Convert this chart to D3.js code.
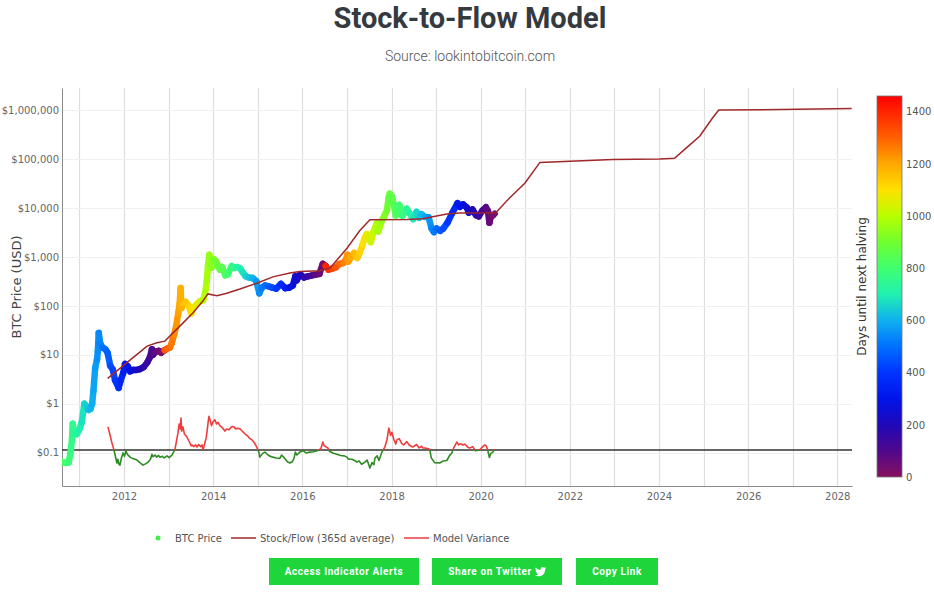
<!DOCTYPE html>
<html><head><meta charset="utf-8">
<script src="https://cdn.jsdelivr.net/npm/d3@7"></script>
<style>body{margin:0;background:#fff;}svg{display:block;}</style>
</head><body>
<svg id="chart" width="934" height="593"></svg>
<script>
// ---------------- DATA ----------------
const priceDates = ["2010-08-15","2010-09-01","2010-09-20","2010-10-05","2010-10-20","2010-11-01","2010-11-07","2010-11-20","2010-12-10","2011-01-01","2011-01-20","2011-02-10","2011-02-25","2011-03-15","2011-04-01","2011-04-15","2011-04-25","2011-05-10","2011-05-25","2011-06-01","2011-06-08","2011-06-20","2011-07-10","2011-08-01","2011-08-20","2011-09-10","2011-10-01","2011-10-20","2011-11-18","2011-12-05","2011-12-25","2012-01-10","2012-02-01","2012-02-20","2012-03-15","2012-04-10","2012-05-10","2012-06-10","2012-07-10","2012-08-01","2012-08-17","2012-08-25","2012-09-15","2012-10-10","2012-11-01","2012-11-27","2012-11-29","2012-12-20","2013-01-10","2013-01-25","2013-02-15","2013-03-05","2013-03-20","2013-04-01","2013-04-09","2013-04-16","2013-05-01","2013-05-20","2013-06-15","2013-07-05","2013-07-20","2013-08-15","2013-09-15","2013-10-10","2013-10-25","2013-11-10","2013-11-20","2013-11-30","2013-12-10","2013-12-18","2014-01-05","2014-01-25","2014-02-10","2014-02-25","2014-03-15","2014-04-10","2014-05-01","2014-06-01","2014-06-20","2014-07-15","2014-08-10","2014-09-01","2014-09-25","2014-10-20","2014-11-20","2014-12-20","2015-01-14","2015-02-01","2015-03-01","2015-04-01","2015-05-01","2015-06-01","2015-07-10","2015-08-15","2015-09-15","2015-10-15","2015-11-05","2015-11-15","2015-12-15","2016-01-15","2016-02-15","2016-03-15","2016-04-15","2016-05-20","2016-06-17","2016-07-08","2016-07-10","2016-08-02","2016-09-01","2016-10-01","2016-11-01","2016-12-01","2016-12-25","2017-01-04","2017-01-12","2017-02-01","2017-03-01","2017-03-25","2017-04-15","2017-05-10","2017-05-25","2017-06-12","2017-07-15","2017-08-05","2017-09-01","2017-09-15","2017-10-12","2017-11-01","2017-11-25","2017-12-08","2017-12-17","2017-12-25","2018-01-05","2018-01-20","2018-02-05","2018-02-20","2018-03-05","2018-04-01","2018-05-05","2018-06-01","2018-06-28","2018-07-25","2018-08-15","2018-09-05","2018-10-01","2018-11-01","2018-11-25","2018-12-15","2019-01-05","2019-02-05","2019-03-01","2019-04-05","2019-05-15","2019-06-26","2019-07-15","2019-08-10","2019-09-10","2019-09-26","2019-10-26","2019-11-25","2019-12-17","2020-01-15","2020-02-13","2020-03-01","2020-03-13","2020-03-25","2020-04-10","2020-04-25"];
const priceValues = [0.065,0.062,0.062,0.063,0.10,0.19,0.39,0.25,0.24,0.30,0.42,1.0,0.9,0.75,0.78,1.0,1.8,5.4,8,12,28,17,14,13,11,6,5,3,2.1,3,4.2,6.5,5.8,4.6,4.9,4.9,5.1,5.6,7,9,13,10,11.5,12,11,12.3,12.4,13.4,14,17,26,40,70,110,230,90,110,120,100,70,90,105,125,130,175,320,700,1100,900,600,900,800,650,550,620,420,440,650,600,620,580,480,400,380,370,320,180,230,260,250,235,225,280,230,235,260,400,330,440,380,400,415,430,450,720,650,650,550,575,610,720,750,900,1100,800,970,1200,950,1200,1800,2400,2900,2000,3200,4800,3300,5400,6700,9000,16000,19500,13800,17000,11500,7000,11000,11500,6900,9700,7500,5900,8300,6300,7400,6600,6400,3800,3200,3800,3400,3800,5000,8000,12500,10500,11800,10200,8000,9300,7100,6700,8800,10300,8600,5000,6700,7000,7600];

const sfDates = ["2011-08-20","2011-11-04","2012-01-25","2012-04-22","2012-07-08","2012-09-27","2012-12-01","2013-01-30","2013-04-05","2013-07-20","2013-10-08","2013-11-18","2014-02-01","2014-04-22","2014-08-08","2014-12-24","2015-05-05","2015-09-21","2015-12-12","2016-05-22","2016-08-15","2017-01-01","2017-04-15","2017-07-08","2018-05-06","2018-09-14","2018-12-05","2019-03-30","2019-07-12","2020-05-04","2020-08-25","2020-12-28","2021-05-01","2022-12-16","2024-01-08","2024-05-08","2024-08-15","2024-11-30","2025-03-18","2025-05-05","2026-09-16","2028-04-28"];
const sfValues = [3.3,4.7,6.9,10.4,15,17.6,19,27,39,72,125,175,160,180,220,290,390,470,500,520,590,1500,3400,5700,5800,6000,6600,7500,7900,8000,16000,32000,85000,97000,100000,103000,170000,290000,700000,1000000,1020000,1070000];

const varDates = ["2011-08-22","2011-09-05","2011-09-24","2011-10-11","2011-10-20","2011-11-04","2011-11-12","2011-11-20","2011-11-29","2011-12-10","2011-12-24","2012-01-05","2012-01-17","2012-01-28","2012-02-10","2012-02-19","2012-03-10","2012-04-01","2012-04-17","2012-05-10","2012-06-05","2012-06-25","2012-07-16","2012-08-05","2012-08-17","2012-08-26","2012-09-10","2012-09-25","2012-10-10","2012-10-22","2012-11-10","2012-11-25","2012-12-18","2013-01-05","2013-01-28","2013-02-10","2013-02-22","2013-03-05","2013-03-18","2013-03-28","2013-04-05","2013-04-12","2013-04-18","2013-04-28","2013-05-10","2013-05-31","2013-06-15","2013-07-05","2013-07-11","2013-07-25","2013-08-10","2013-08-21","2013-09-05","2013-09-20","2013-10-01","2013-10-09","2013-10-20","2013-11-05","2013-11-11","2013-11-20","2013-11-27","2013-12-08","2013-12-18","2013-12-30","2014-01-15","2014-01-28","2014-02-10","2014-02-25","2014-03-10","2014-03-25","2014-04-07","2014-04-20","2014-05-10","2014-06-03","2014-06-20","2014-07-05","2014-07-22","2014-08-10","2014-09-02","2014-09-20","2014-10-05","2014-10-29","2014-11-15","2014-12-05","2014-12-25","2015-01-10","2015-01-18","2015-02-10","2015-03-01","2015-03-16","2015-04-05","2015-05-05","2015-06-01","2015-07-01","2015-07-15","2015-08-10","2015-09-01","2015-09-21","2015-10-10","2015-10-25","2015-11-05","2015-11-17","2015-12-12","2016-01-10","2016-02-01","2016-03-03","2016-04-01","2016-05-01","2016-06-01","2016-06-17","2016-06-28","2016-07-28","2016-08-10","2016-09-07","2016-10-10","2016-11-10","2016-12-10","2017-01-01","2017-01-15","2017-02-10","2017-03-05","2017-03-24","2017-04-10","2017-05-01","2017-05-28","2017-06-15","2017-07-08","2017-07-25","2017-08-10","2017-08-18","2017-09-05","2017-09-20","2017-10-14","2017-11-07","2017-11-25","2017-12-10","2017-12-25","2018-01-04","2018-01-20","2018-02-05","2018-02-14","2018-03-05","2018-03-26","2018-04-10","2018-05-06","2018-05-25","2018-06-24","2018-07-25","2018-08-15","2018-09-05","2018-09-14","2018-10-15","2018-11-10","2018-11-22","2018-12-05","2018-12-20","2019-01-31","2019-03-01","2019-03-30","2019-04-20","2019-05-10","2019-05-25","2019-06-20","2019-07-05","2019-07-20","2019-08-08","2019-08-25","2019-09-20","2019-10-05","2019-10-28","2019-11-20","2019-12-25","2020-01-15","2020-02-04","2020-02-18","2020-02-28","2020-03-13","2020-03-25","2020-04-10","2020-04-26"];
const varValues = [0.55,0.40,0.17,0.0,-0.12,-0.31,-0.22,-0.33,-0.36,-0.20,-0.07,-0.15,-0.02,-0.10,-0.14,-0.17,-0.20,-0.22,-0.24,-0.30,-0.36,-0.33,-0.29,-0.22,-0.10,-0.16,-0.12,-0.17,-0.13,-0.17,-0.15,-0.19,-0.14,-0.18,-0.12,-0.05,0.02,0.20,0.40,0.62,0.50,0.76,0.45,0.55,0.38,0.31,0.22,0.10,0.12,0.08,0.12,0.07,0.13,0.08,0.12,0.0,0.12,0.30,0.43,0.65,0.80,0.70,0.58,0.67,0.72,0.62,0.66,0.58,0.55,0.50,0.45,0.50,0.48,0.56,0.55,0.50,0.52,0.50,0.43,0.38,0.35,0.27,0.24,0.17,0.06,-0.05,-0.17,-0.08,-0.05,-0.09,-0.14,-0.17,-0.19,-0.20,-0.12,-0.20,-0.28,-0.31,-0.28,-0.20,-0.05,-0.12,-0.05,-0.02,-0.07,-0.05,-0.04,-0.02,0.03,0.19,0.10,0.05,-0.03,-0.07,-0.10,-0.13,-0.14,-0.17,-0.22,-0.22,-0.25,-0.29,-0.26,-0.34,-0.29,-0.24,-0.43,-0.30,-0.35,-0.19,-0.14,-0.25,-0.05,0.07,0.25,0.52,0.35,0.42,0.25,0.14,0.24,0.27,0.15,0.12,0.20,0.12,0.07,0.13,0.05,0.09,0.05,0.04,0.02,-0.18,-0.24,-0.30,-0.31,-0.26,-0.25,-0.14,-0.07,0.05,0.19,0.12,0.15,0.12,0.14,0.06,0.05,0.08,-0.02,0.0,0.07,0.12,0.09,0.0,-0.18,-0.08,-0.05,0.02];

const halvingDates = ["2012-11-28","2016-07-09","2020-05-11","2024-05-10"];

const yTickValues = [0.1,1,10,100,1000,10000,100000,1000000];
const yTickLabels = ["$0.1","$1","$10","$100","$1,000","$10,000","$100,000","$1,000,000"];
const xTickYears = [2012,2014,2016,2018,2020,2022,2024,2026,2028];
const xGridYears = [2011,2012,2013,2014,2015,2016,2017,2018,2019,2020,2021,2022,2023,2024,2025,2026,2027,2028];
const colorTicks = [0,200,400,600,800,1000,1200,1400];
const colorStopValues = [0,100,200,300,400,500,600,700,800,900,1000,1100,1200,1300,1460];
const colorStopColors = ["#86105e","#50088c","#2008b8","#0014e8","#0034ff","#0070ff","#10b0f0","#20f0b0","#40ff70","#70ff30","#b8ff00","#ffe000","#ffa800","#ff6000","#ff0000"];

const legendLabels = ["BTC Price","Stock/Flow (365d average)","Model Variance"];
const buttonLabels = ["Access Indicator Alerts","Share on Twitter","Copy Link"];

// ---------------- LAYOUT ----------------
const L = 62, R = 852, T = 88, B = 486;
const parse = d3.utcParse("%Y-%m-%d");
const svg = d3.select("#chart");

const x = d3.scaleUtc().domain([parse("2010-08-11"), parse("2028-05-01")]).range([L, R]);
const y = d3.scaleLog().domain([Math.pow(10,-1.68), Math.pow(10,6.449)]).range([B, T]);
const yVar = d3.scaleLinear().domain([-36/42, 362/42]).range([B, T]);
const color = d3.scaleLinear().domain(colorStopValues).range(colorStopColors).interpolate(d3.interpolateRgb).clamp(true);

const halvings = halvingDates.map(parse);
function daysToHalving(d) {
  const h = halvings.find(h => h >= d);
  return Math.round((h - d) / 86400000);
}

const price = priceDates.map((d,i) => ({date: parse(d), v: priceValues[i]}));
const sf = sfDates.map((d,i) => ({date: parse(d), v: sfValues[i]}));
const variance = varDates.map((d,i) => ({date: parse(d), v: varValues[i]}));

// Title
svg.append("text").attr("x", 470).attr("y", 28).attr("text-anchor","middle")
  .style("font-family","Roboto").style("font-weight","700").style("font-size","29px").attr("fill","#343a40")
  .text("Stock-to-Flow Model");
svg.append("text").attr("x", 470).attr("y", 61).attr("text-anchor","middle")
  .style("font-family","Roboto").style("font-weight","300").style("font-size","14px").attr("fill","#555")
  .text("Source: lookintobitcoin.com");

const defs = svg.append("defs");

// Grid
const grid = svg.append("g");
grid.selectAll("line.v").data(xGridYears).join("line")
  .attr("x1", d => Math.round(x(Date.UTC(d,0,1)))+0.5).attr("x2", d => Math.round(x(Date.UTC(d,0,1)))+0.5)
  .attr("y1", T).attr("y2", B).attr("stroke","#dedede").attr("stroke-width",1.2);
grid.selectAll("line.h").data(yTickValues).join("line")
  .attr("x1", L).attr("x2", R).attr("y1", d => Math.round(y(d))+0.5).attr("y2", d => Math.round(y(d))+0.5)
  .attr("stroke","#f0f0f0").attr("stroke-width",1);

// Axes
const fontAxis = "DejaVu Sans, Verdana, sans-serif";
const yAxis = svg.append("g").attr("transform",`translate(${L},0)`)
  .call(d3.axisLeft(y).tickValues(yTickValues).tickFormat((d,i) => yTickLabels[i]).tickSize(0).tickPadding(3));
yAxis.select(".domain").attr("stroke","#8a8a8a");
yAxis.selectAll("text").style("font-family",fontAxis).style("font-size","10px").attr("fill","#666");

const xAxis = svg.append("g").attr("transform",`translate(0,${B})`)
  .call(d3.axisBottom(x).tickValues(xTickYears.map(yy => new Date(Date.UTC(yy,0,1)))).tickFormat(d3.utcFormat("%Y")).tickSize(0).tickPadding(7));
xAxis.select(".domain").attr("stroke","#8a8a8a");
xAxis.selectAll("text").style("font-family",fontAxis).style("font-size","10px").attr("fill","#666");

svg.append("text").attr("transform",`translate(21,${(T+B)/2}) rotate(-90)`).attr("text-anchor","middle")
  .style("font-family",fontAxis).style("font-size","13px").attr("fill","#444").text("BTC Price (USD)");

// Clip for plot
defs.append("clipPath").attr("id","plotclip").append("rect").attr("x",L).attr("y",T).attr("width",R-L).attr("height",B-T);
const plot = svg.append("g").attr("clip-path","url(#plotclip)");

// Variance zero line
plot.append("line").attr("x1",L).attr("x2",R).attr("y1",yVar(0)).attr("y2",yVar(0)).attr("stroke","#333").attr("stroke-width",1.5);

// Variance line: red above zero, green below
defs.append("clipPath").attr("id","above").append("rect").attr("x",L).attr("y",T).attr("width",R-L).attr("height",yVar(0)-T);
defs.append("clipPath").attr("id","below").append("rect").attr("x",L).attr("y",yVar(0)).attr("width",R-L).attr("height",B-yVar(0));
const varLine = d3.line().x(d => x(d.date)).y(d => yVar(d.v));
plot.append("path").datum(variance).attr("d",varLine).attr("fill","none").attr("stroke","#f03c3c").attr("stroke-width",1.6).attr("stroke-linejoin","round").attr("clip-path","url(#above)");
plot.append("path").datum(variance).attr("d",varLine).attr("fill","none").attr("stroke","#2e8b22").attr("stroke-width",1.6).attr("stroke-linejoin","round").attr("clip-path","url(#below)");

// Price trace (coloured by days until next halving)
const segs = d3.pairs(price);
plot.append("g").selectAll("line").data(segs).join("line")
  .attr("x1", d => x(d[0].date)).attr("y1", d => y(d[0].v))
  .attr("x2", d => x(d[1].date)).attr("y2", d => y(d[1].v))
  .attr("stroke", d => color(daysToHalving(d[0].date)))
  .attr("stroke-width", 6.5).attr("stroke-linecap","round");

// SF line
plot.append("path").datum(sf).attr("d", d3.line().x(d => x(d.date)).y(d => y(d.v)))
  .attr("fill","none").attr("stroke","#a0282a").attr("stroke-width",1.5);

// Colorbar
const cbX = 877, cbW = 25, cbTop = 96, cbBot = 477;
const cy = d3.scaleLinear().domain([0,1460]).range([cbBot, cbTop]);
const grad = defs.append("linearGradient").attr("id","cbgrad").attr("x1","0").attr("y1","1").attr("x2","0").attr("y2","0");
grad.selectAll("stop").data(colorStopValues).join("stop")
  .attr("offset", d => d/1460).attr("stop-color", (d,i) => colorStopColors[i]);
svg.append("rect").attr("x",cbX).attr("y",cbTop).attr("width",cbW).attr("height",cbBot-cbTop)
  .attr("fill","url(#cbgrad)").attr("stroke","#777").attr("stroke-width",0.8);
const cbAxis = svg.append("g").attr("transform",`translate(${cbX+cbW},0)`)
  .call(d3.axisRight(cy).tickValues(colorTicks).tickFormat(d3.format("d")).tickSize(0).tickPadding(4));
cbAxis.select(".domain").remove();
cbAxis.selectAll("text").style("font-family",fontAxis).style("font-size","10px").attr("fill","#555");
svg.append("text").attr("transform",`translate(866,${(cbTop+cbBot)/2}) rotate(-90)`).attr("text-anchor","middle")
  .style("font-family",fontAxis).style("font-size","12px").attr("fill","#333").text("Days until next halving");

// Legend
const lg = svg.append("g").style("font-family",fontAxis).style("font-size","10px");
lg.append("circle").attr("cx",158).attr("cy",538).attr("r",2.5).attr("fill","#44ee44");
lg.append("text").attr("x",175).attr("y",541.5).attr("fill","#555").text(legendLabels[0]);
lg.append("line").attr("x1",231).attr("x2",256).attr("y1",538).attr("y2",538).attr("stroke","#a0282a").attr("stroke-width",1.5);
lg.append("text").attr("x",260).attr("y",541.5).attr("fill","#555").text(legendLabels[1]);
lg.append("line").attr("x1",404).attr("x2",429).attr("y1",538).attr("y2",538).attr("stroke","#f03c3c").attr("stroke-width",1.5);
lg.append("text").attr("x",433).attr("y",541.5).attr("fill","#555").text(legendLabels[2]);

// Buttons
const buttons = [{x:269,w:150},{x:432,w:130},{x:576,w:82}];
const bg = svg.append("g");
buttons.forEach((b,i) => {
  bg.append("rect").attr("x",b.x).attr("y",558).attr("width",b.w).attr("height",27).attr("fill","#1ed63c");
  const tx = i===1 ? b.x + b.w/2 - 7 : b.x + b.w/2;
  bg.append("text").attr("x",tx).attr("y",575).attr("text-anchor","middle")
    .style("font-family","Roboto").style("font-weight","700").style("font-size","10px").style("letter-spacing","0.6px")
    .attr("fill","#fff").text(buttonLabels[i]);
});
bg.append("path").attr("transform","translate(535,566) scale(0.022)").attr("fill","#fff")
  .attr("d","M459.37 151.716c.325 4.548.325 9.097.325 13.645 0 138.72-105.583 298.558-298.558 298.558-59.452 0-114.68-17.219-161.137-47.106 8.447.974 16.568 1.299 25.34 1.299 49.055 0 94.213-16.568 130.274-44.832-46.132-.975-84.792-31.188-98.112-72.772 6.498.974 12.995 1.624 19.818 1.624 9.421 0 18.843-1.3 27.614-3.573-48.081-9.747-84.143-51.98-84.143-102.985v-1.299c13.969 7.797 30.214 12.67 47.431 13.319-28.264-18.843-46.781-51.005-46.781-87.391 0-19.492 5.197-37.36 14.294-52.954 51.655 63.675 129.3 105.258 216.365 109.807-1.624-7.797-2.599-15.918-2.599-24.04 0-57.828 46.782-104.934 104.934-104.934 30.213 0 57.502 12.67 76.67 33.137 23.715-4.548 46.456-13.32 66.599-25.34-7.798 24.366-24.366 44.833-46.132 57.827 21.117-2.273 41.584-8.122 60.426-16.243-14.292 20.791-32.161 39.308-52.628 54.253z");
</script>
</body></html>
